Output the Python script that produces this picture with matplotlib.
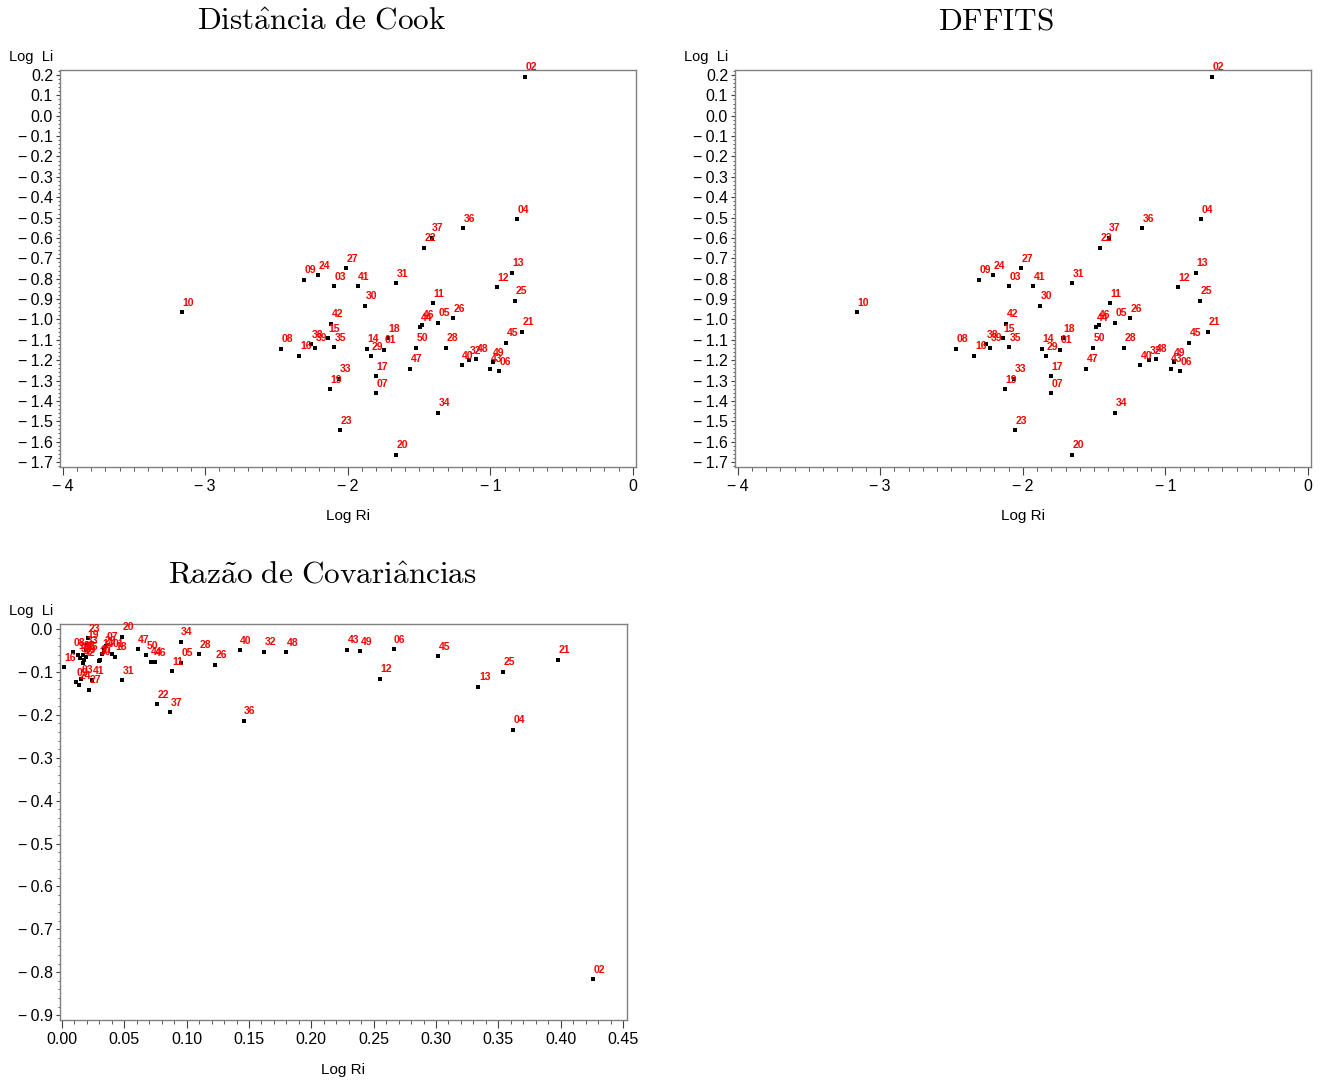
import matplotlib
matplotlib.use('Agg')
import matplotlib.pyplot as plt
from matplotlib.ticker import MultipleLocator, AutoMinorLocator, FuncFormatter

plt.rcParams['font.family'] = ['Liberation Sans', 'DejaVu Sans']
plt.rcParams['mathtext.fontset'] = 'cm'

W, H = 1322, 1080

obs = ['%02d' % i for i in range(1, 51)]

cook_log_ri = [-1.743, -0.757, -2.098, -0.815, -1.369, -0.941, -1.804, -2.468, -2.304, -3.160,
               -1.404, -0.955, -0.848, -1.865, -2.140, -2.339, -1.804, -1.720, -2.126, -1.661,
               -0.778, -1.467, -2.056, -2.208, -0.825, -1.264, -2.012, -1.309, -1.837, -1.879,
               -1.661, -1.147, -2.063, -1.369, -2.098, -1.189, -1.411, -2.259, -2.227, -1.201,
               -1.930, -2.115, -1.002, -1.493, -0.890, -1.477, -1.561, -1.100, -0.983, -1.519]
cook_log_li = [-1.149, 0.192, -0.837, -0.507, -1.016, -1.253, -1.361, -1.144, -0.806, -0.965,
               -0.921, -0.842, -0.771, -1.144, -1.093, -1.178, -1.278, -1.093, -1.343, -1.664,
               -1.060, -0.649, -1.543, -0.782, -0.909, -0.993, -0.749, -1.140, -1.181, -0.933,
               -0.823, -1.199, -1.292, -1.459, -1.137, -0.551, -0.599, -1.122, -1.139, -1.224,
               -0.837, -1.022, -1.242, -1.039, -1.114, -1.027, -1.242, -1.194, -1.210, -1.139]

dffits_log_ri = [-1.736, -0.675, -2.096, -0.748, -1.355, -0.895, -1.802, -2.466, -2.304, -3.162,
                 -1.390, -0.911, -0.787, -1.863, -2.140, -2.339, -1.802, -1.715, -2.126, -1.654,
                 -0.703, -1.456, -2.054, -2.208, -0.759, -1.245, -2.010, -1.290, -1.837, -1.877,
                 -1.654, -1.116, -2.063, -1.353, -2.096, -1.165, -1.397, -2.259, -2.229, -1.177,
                 -1.928, -2.115, -0.962, -1.486, -0.834, -1.467, -1.554, -1.067, -0.941, -1.509]
dffits_log_li = [-1.149, 0.192, -0.837, -0.507, -1.016, -1.253, -1.361, -1.144, -0.806, -0.965,
                 -0.921, -0.842, -0.771, -1.144, -1.093, -1.178, -1.278, -1.093, -1.343, -1.664,
                 -1.060, -0.649, -1.543, -0.782, -0.909, -0.993, -0.749, -1.140, -1.181, -0.933,
                 -0.823, -1.199, -1.292, -1.459, -1.137, -0.551, -0.599, -1.122, -1.139, -1.224,
                 -0.837, -1.022, -1.242, -1.039, -1.114, -1.027, -1.242, -1.194, -1.210, -1.139]

cov_log_ri = [0.0401, 0.426, 0.0152, 0.362, 0.0955, 0.266, 0.0353, 0.0088, 0.0112, 0.0128,
              0.088, 0.255, 0.334, 0.0321, 0.0168, 0.0016, 0.0305, 0.0425, 0.0201, 0.0484,
              0.398, 0.076, 0.0209, 0.0136, 0.354, 0.1225, 0.0217, 0.110, 0.0337, 0.0297,
              0.0484, 0.1623, 0.0193, 0.0952, 0.0193, 0.1457, 0.0866, 0.0144, 0.0176, 0.1425,
              0.0241, 0.0168, 0.229, 0.0711, 0.302, 0.0743, 0.0607, 0.180, 0.239, 0.0674]
cov_log_li = [-0.058, -0.816, -0.117, -0.235, -0.079, -0.047, -0.040, -0.054, -0.124, -0.061,
              -0.098, -0.116, -0.135, -0.058, -0.061, -0.089, -0.072, -0.065, -0.037, -0.018,
              -0.072, -0.175, -0.021, -0.131, -0.100, -0.083, -0.142, -0.059, -0.049, -0.075,
              -0.120, -0.053, -0.049, -0.030, -0.065, -0.214, -0.194, -0.068, -0.072, -0.050,
              -0.119, -0.079, -0.048, -0.076, -0.064, -0.078, -0.047, -0.054, -0.052, -0.061]

titles = [r'$\mathrm{Dist\hat{a}ncia\ de\ Cook}$', r'$\mathrm{DFFITS}$',
          r'$\mathrm{Raz\tilde{a}o\ de\ Covari\hat{a}ncias}$']

fig = plt.figure(figsize=(W / 100, H / 100), dpi=100)


def box(l, t, r, b):
    return [l / W, 1 - b / H, (r - l) / W, (b - t) / H]


def fmt(nd):
    def f(v, pos):
        s = ('%.' + str(nd) + 'f') % v
        if s.startswith('-'):
            if float(s) == 0:
                s = s[1:]
            else:
                s = '\u2212\u2009' + s[1:]
        return s
    return FuncFormatter(f)


def style(ax):
    for s in ax.spines.values():
        s.set_color('#808080')
        s.set_linewidth(1.0)
    ax.tick_params(axis='y', which='major', direction='out', length=3, width=0.8,
                   color='#404040', labelsize=11.5, pad=2)
    ax.tick_params(axis='y', which='minor', direction='out', length=1.8, width=0.6,
                   color='#404040')
    ax.tick_params(axis='x', which='major', direction='out', length=6, width=0.8,
                   color='#404040', labelsize=11.5, pad=3)
    ax.tick_params(axis='x', which='minor', direction='out', length=3, width=0.6,
                   color='#404040')
    ax.tick_params(which='both', top=False, right=False)


def scatter_labels(ax, xs, ys):
    ax.scatter(xs, ys, s=6, marker='s', color='black', linewidths=0, zorder=3)
    for x, y, t in zip(xs, ys, obs):
        ax.annotate(t, (x, y), xytext=(4.5, 6.8), textcoords='offset points',
                    ha='center', va='center', fontsize=7.5, fontweight='bold',
                    color='#ff0000', zorder=4)


panels = [
    (box(60, 70, 636, 467), cook_log_ri, cook_log_li, titles[0], 322, 21),
    (box(735, 70, 1311, 467), dffits_log_ri, dffits_log_li, titles[1], 996, 21),
]
for rect, xs, ys, title, tx, ty in panels:
    ax = fig.add_axes(rect)
    scatter_labels(ax, xs, ys)
    ax.set_xlim(-4.018, 0.021)
    ax.set_ylim(-1.7245, 0.2245)
    ax.xaxis.set_major_locator(MultipleLocator(1))
    ax.xaxis.set_minor_locator(MultipleLocator(0.1))
    ax.xaxis.set_major_formatter(fmt(0))
    ax.yaxis.set_major_locator(MultipleLocator(0.1))
    ax.yaxis.set_minor_locator(AutoMinorLocator(5))
    ax.yaxis.set_major_formatter(fmt(1))
    style(ax)
    fig.text(tx / W, 1 - ty / H, title, ha='center', va='center', fontsize=22.5)
    l = rect[0] * W
    fig.text((l - 29) / W, 1 - 57 / H, 'Log  Li', ha='center', va='center', fontsize=10.5)
    fig.text((l + 288) / W, 1 - 516 / H, 'Log Ri', ha='center', va='center', fontsize=11)

rect = box(60, 624, 627, 1020)
ax = fig.add_axes(rect)
scatter_labels(ax, cov_log_ri, cov_log_li)
ax.set_xlim(-0.0016, 0.4532)
ax.set_ylim(-0.9114, 0.0117)
ax.xaxis.set_major_locator(MultipleLocator(0.05))
ax.xaxis.set_minor_locator(AutoMinorLocator(5))
ax.xaxis.set_major_formatter(fmt(2))
ax.yaxis.set_major_locator(MultipleLocator(0.1))
ax.yaxis.set_minor_locator(AutoMinorLocator(5))
ax.yaxis.set_major_formatter(fmt(1))
style(ax)
fig.text(322 / W, 1 - 575 / H, titles[2], ha='center', va='center', fontsize=22.5)
fig.text(31 / W, 1 - 611 / H, 'Log  Li', ha='center', va='center', fontsize=10.5)
fig.text(343 / W, 1 - 1070 / H, 'Log Ri', ha='center', va='center', fontsize=11)

fig.savefig('out.png', dpi=100)
